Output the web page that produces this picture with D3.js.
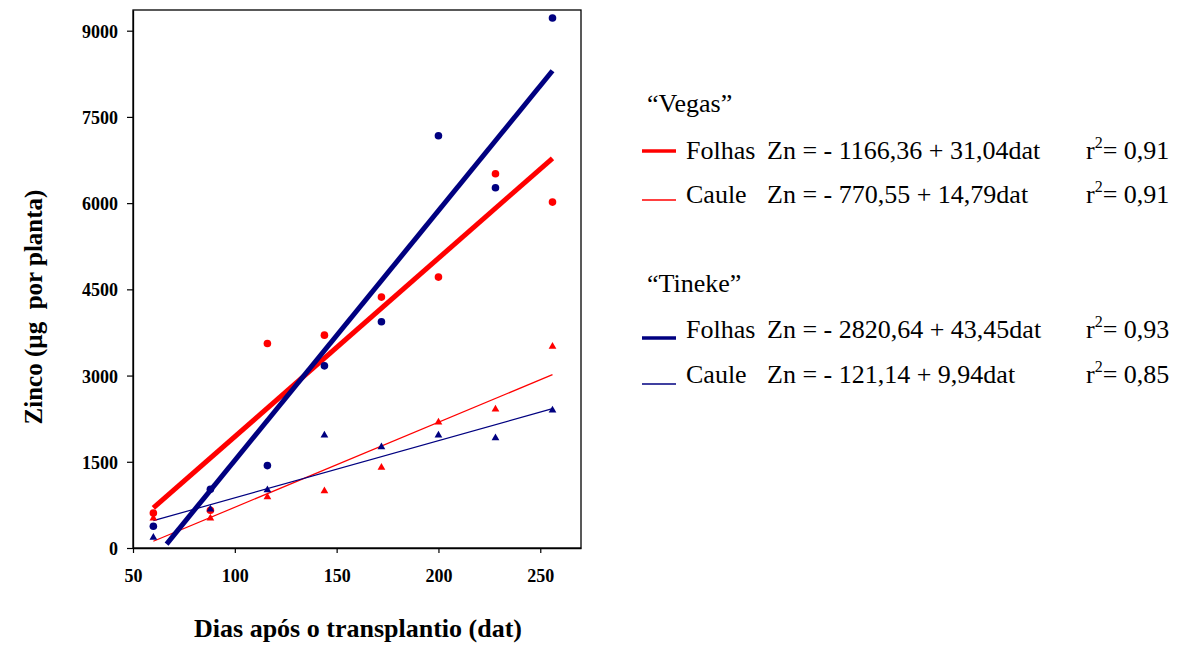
<!DOCTYPE html>
<html>
<head>
<meta charset="utf-8">
<script src="https://cdn.jsdelivr.net/npm/d3@7"></script>
<style>
body { margin:0; background:#fff; }
svg text { font-family:"Liberation Serif","Tinos","Times New Roman","Nimbus Roman","DejaVu Serif",serif; }
</style>
</head>
<body>
<svg id="chart" width="1181" height="645"></svg>
<script>
// days after transplant
var days = [60, 88, 116, 144, 172, 200, 228, 256];

// Zn (ug per plant)
var vegasFolhas  = [609, 656, 3558, 3703, 4365, 4713, 6511, 6018];
var vegasCaule   = [517, 517, 888, 993, 1400, 2188, 2415, 3506];
var tinekeFolhas = [378, 1022, 1434, 3169, 3935, 7173, 6268, 9222];
var tinekeCaule  = [181, 674, 1010, 1962, 1758, 1962, 1915, 2397];

var xTicks = [50, 100, 150, 200, 250];
var yTicks = [0, 1500, 3000, 4500, 6000, 7500, 9000];

// fitted lines: intercept, slope, r2, first/last day
var fitNames  = ["Folhas", "Caule", "Folhas", "Caule"];
var fitA      = [-1166.36, -770.55, -2820.64, -121.14];
var fitB      = [31.04, 14.79, 43.45, 9.94];
var fitR2     = ["0,91", "0,91", "0,93", "0,85"];
var fitEqs    = ["Zn = - 1166,36 + 31,04dat", "Zn = - 770,55 + 14,79dat",
                 "Zn = - 2820,64 + 43,45dat", "Zn = - 121,14 + 9,94dat"];
var fitStart  = [60, 60, 66.5, 60];
var fitEnd    = [256, 256, 256, 256];

var red = "#ff0000", navy = "#000080";
var fitColor = [red, red, navy, navy];
var fitWidth = [5, 1.2, 5, 1.2];

var serif = "'Liberation Serif','Tinos','Times New Roman','Nimbus Roman','DejaVu Serif',serif";

var svg = d3.select("#chart");

var x = d3.scaleLinear().domain([50, 270]).range([133, 581]);
var y = d3.scaleLinear().domain([0, 9360]).range([548, 10]);

// frame
svg.append("rect")
    .attr("x", x(50)).attr("y", y(9360))
    .attr("width", x(270) - x(50)).attr("height", y(0) - y(9360))
    .attr("fill", "none").attr("stroke", "#000").attr("stroke-width", 1.3);

var xAxis = svg.append("g")
    .attr("transform", "translate(0," + y(0) + ")")
    .call(d3.axisBottom(x).tickValues(xTicks).tickFormat(d3.format("d"))
        .tickSize(5).tickPadding(16).tickSizeOuter(0));
var yAxis = svg.append("g")
    .attr("transform", "translate(" + x(50) + ",0)")
    .call(d3.axisLeft(y).tickValues(yTicks).tickFormat(d3.format("d"))
        .tickSize(6).tickPadding(9).tickSizeOuter(0));

[xAxis, yAxis].forEach(function(ax) {
    ax.attr("font-family", null);
    ax.select(".domain").attr("stroke", "#000").attr("stroke-width", 1.3);
    ax.selectAll(".tick line").attr("stroke", "#000").attr("stroke-width", 1.2);
    ax.selectAll(".tick text")
        .attr("fill", "#000")
        .style("font-family", serif)
        .style("font-weight", "bold")
        .style("font-size", "18px");
});
yAxis.selectAll(".tick text").attr("dy", "0.36em");

// axis titles
svg.append("text")
    .attr("x", 358).attr("y", 637)
    .attr("text-anchor", "middle")
    .style("font-weight", "bold").style("font-size", "26px")
    .text("Dias após o transplantio (dat)");

svg.append("text")
    .attr("transform", "translate(42,307) rotate(-90)")
    .attr("text-anchor", "middle")
    .style("font-weight", "bold").style("font-size", "25px")
    .style("white-space", "pre")
    .text("Zinco (µg  por planta)");

// trend lines
fitA.forEach(function(a, i) {
    var pts = [fitStart[i], fitEnd[i]].map(function(d) { return [x(d), y(a + fitB[i] * d)]; });
    svg.append("path")
        .attr("d", d3.line()(pts))
        .attr("fill", "none")
        .attr("stroke", fitColor[i])
        .attr("stroke-width", fitWidth[i]);
});

// points
var tri = d3.symbol().type(d3.symbolTriangle).size(26);
function drawTriangles(vals, col) {
    svg.selectAll(null).data(vals).enter().append("path")
        .attr("d", tri)
        .attr("transform", function(d, i) { return "translate(" + x(days[i]) + "," + y(d) + ")"; })
        .attr("fill", col);
}
function drawCircles(vals, col) {
    svg.selectAll(null).data(vals).enter().append("circle")
        .attr("cx", function(d, i) { return x(days[i]); })
        .attr("cy", function(d) { return y(d); })
        .attr("r", 3.8)
        .attr("fill", col);
}
drawCircles(tinekeFolhas, navy);
drawCircles(vegasFolhas, red);
drawTriangles(tinekeCaule, navy);
drawTriangles(vegasCaule, red);

// legend
var groups = [["\u201cVegas\u201d", 112], ["\u201cTineke\u201d", 292]];
groups.forEach(function(g) {
    svg.append("text").attr("x", 647).attr("y", g[1])
        .style("font-size", "26px").text(g[0]);
});

var rowY = [159, 203, 338, 383];
var lineY = [151, 200, 338, 384];
fitNames.forEach(function(nm, i) {
    svg.append("line")
        .attr("x1", 642).attr("x2", 676)
        .attr("y1", lineY[i]).attr("y2", lineY[i])
        .attr("stroke", fitColor[i])
        .attr("stroke-width", i % 2 == 0 ? 3.5 : 1.3);
    svg.append("text").attr("x", 686).attr("y", rowY[i])
        .style("font-size", "26px").text(nm);
    svg.append("text").attr("x", 767).attr("y", rowY[i])
        .style("font-size", "26px").text(fitEqs[i]);
    var r = svg.append("text").attr("x", 1086).attr("y", rowY[i])
        .style("font-size", "26px");
    r.append("tspan").text("r");
    r.append("tspan").attr("dy", -11).style("font-size", "16px").text("2");
    r.append("tspan").attr("dy", 11).text("= " + fitR2[i]);
});
</script>
</body>
</html>
